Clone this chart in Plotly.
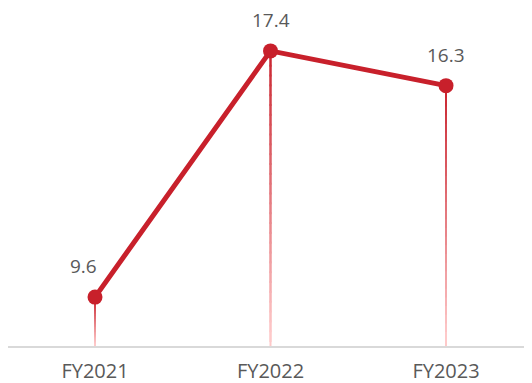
import plotly.graph_objects as go

# Datos del gráfico
categories = ["FY2021", "FY2022", "FY2023"]
values = [9.6, 17.4, 16.3]
label_shift = [-12, 0, 0]

RED = (200, 32, 43)
PINK = (255, 204, 204)
Y_MIN, Y_MAX = 8.05, 18.76

fig = go.Figure()

# Líneas de caída con degradado (rojo arriba -> rosa abajo)
n_seg = 30
for i, v in enumerate(values):
    span = v - Y_MIN
    for k in range(n_seg):
        t0 = max(k / n_seg - 0.02, 0)
        t1 = min((k + 1) / n_seg + 0.02, 1)
        y_top = v - span * t0
        y_bot = v - span * t1
        tm = (k + 0.5) / n_seg
        c = tuple(round(RED[j] + (PINK[j] - RED[j]) * tm) for j in range(3))
        fig.add_shape(type="line", xref="x", yref="y",
                      x0=i, x1=i, y0=y_bot, y1=y_top,
                      line=dict(color=f"rgb{c}", width=2), layer="below")

fig.add_trace(go.Scatter(
    x=list(range(len(categories))), y=values,
    mode="lines+markers",
    line=dict(color="#C8202B", width=5),
    marker=dict(color="#C8202B", size=15),
    hoverinfo="skip", showlegend=False,
))

# Etiquetas de datos
for i, v in enumerate(values):
    fig.add_annotation(x=i, y=v, text=f"{v}", showarrow=False,
                       yshift=31, xshift=label_shift[i], borderpad=0,
                       font=dict(family="Open Sans", size=19, color="#595959"))

fig.update_xaxes(
    range=[-0.4957, 2.49],
    tickmode="array", tickvals=list(range(len(categories))), ticktext=categories,
    showgrid=False, zeroline=False,
    showline=True, linecolor="#D9D9D9", linewidth=2,
    tickfont=dict(family="Open Sans", size=20, color="#595959"),
    ticks="", ticklabelstandoff=6,
)
fig.update_yaxes(range=[Y_MIN, Y_MAX], visible=False, showgrid=False, zeroline=False)

# la página añade 8 px de margen al body, por eso la figura es algo menor
fig.update_layout(
    width=524, height=375,
    margin=dict(l=0, r=0, t=0, b=37),
    plot_bgcolor="white", paper_bgcolor="white",
)

fig.write_html("out.html")
